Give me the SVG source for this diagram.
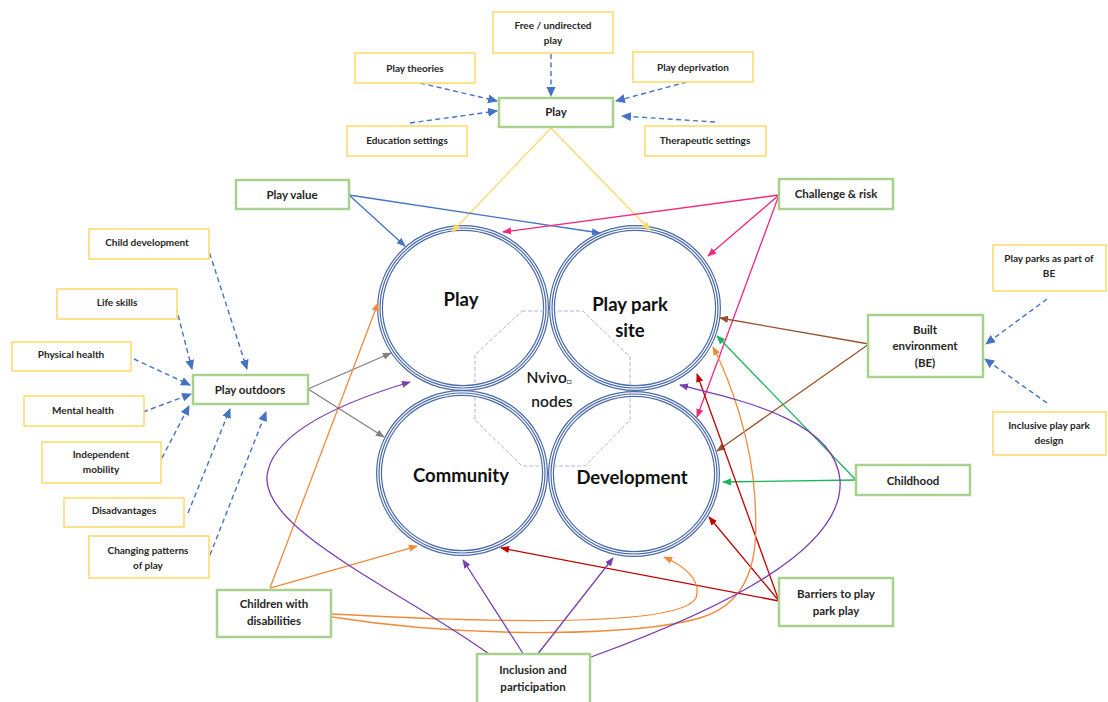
<svg xmlns="http://www.w3.org/2000/svg" width="1108" height="702" viewBox="0 0 1108 702">
  <style>
    .bg { fill: #ffffff; }
    .yb { fill: #ffffff; stroke: #ffd966; stroke-width: 1.5; }
    .gb { fill: #ffffff; stroke: #a9d18e; stroke-width: 2.5; }
    .t { font-family: Lato, "Open Sans", sans-serif; font-weight: bold; fill: #262626; text-anchor: middle; }
    .ts { font-size: 10px; }
    .tg { font-size: 11.5px; }
    .big { font-family: Lato, "Open Sans", sans-serif; font-weight: bold; font-size: 18.5px; fill: #111111; text-anchor: middle; }
    .ring1 { fill: #ffffff; stroke: #4a6aa8; stroke-width: 6; }
    .ring2 { fill: none; stroke: #ffffff; stroke-width: 3.6; }
    .ring3 { fill: none; stroke: #4a6aa8; stroke-width: 1.2; }
    .oct { fill: none; stroke: #b4a7d6; stroke-width: 0.9; stroke-dasharray: 4 2; }
    .nv { font-family: Lato, "Open Sans", sans-serif; font-weight: 600; font-size: 15.5px; fill: #1a1a1a; text-anchor: middle; }
    .c { fill: none; stroke-width: 1.3; }
    .dash { fill: none; stroke: #4472c4; stroke-width: 1.4; stroke-dasharray: 5 3.5; marker-end: url(#aDash); }
    .blue { stroke: #4472c4; marker-end: url(#aBlue); }
    .yel { stroke: #ffd966; marker-end: url(#aYel); }
    .pink { stroke: #f0287f; marker-end: url(#aPink); }
    .brown { stroke: #96532a; marker-end: url(#aBrown); }
    .green { stroke: #1fb35c; marker-end: url(#aGreen); }
    .red { stroke: #c00000; marker-end: url(#aRed); }
    .orange { stroke: #f08a3c; marker-end: url(#aOrange); }
    .purple { stroke: #7a3fb0; marker-end: url(#aPurple); }
    .gray { stroke: #808080; marker-end: url(#aGray); }
  </style>
  <defs>
    <marker id="aDash" viewBox="0 0 10 10" refX="9" refY="5" markerWidth="10" markerHeight="10" markerUnits="userSpaceOnUse" orient="auto"><path d="M0,0.5 L10,5 L0,9.5 z" fill="#4472c4"/></marker>
    <marker id="aBlue" viewBox="0 0 10 10" refX="9" refY="5" markerWidth="9" markerHeight="9" markerUnits="userSpaceOnUse" orient="auto"><path d="M0,1 L10,5 L0,9 z" fill="#4472c4"/></marker>
    <marker id="aYel" viewBox="0 0 10 10" refX="9" refY="5" markerWidth="9" markerHeight="9" markerUnits="userSpaceOnUse" orient="auto"><path d="M0,1 L10,5 L0,9 z" fill="#ffd966"/></marker>
    <marker id="aPink" viewBox="0 0 10 10" refX="9" refY="5" markerWidth="9" markerHeight="9" markerUnits="userSpaceOnUse" orient="auto"><path d="M0,1 L10,5 L0,9 z" fill="#f0287f"/></marker>
    <marker id="aBrown" viewBox="0 0 10 10" refX="9" refY="5" markerWidth="9" markerHeight="9" markerUnits="userSpaceOnUse" orient="auto"><path d="M0,1 L10,5 L0,9 z" fill="#96532a"/></marker>
    <marker id="aGreen" viewBox="0 0 10 10" refX="9" refY="5" markerWidth="9" markerHeight="9" markerUnits="userSpaceOnUse" orient="auto"><path d="M0,1 L10,5 L0,9 z" fill="#1fb35c"/></marker>
    <marker id="aRed" viewBox="0 0 10 10" refX="9" refY="5" markerWidth="9" markerHeight="9" markerUnits="userSpaceOnUse" orient="auto"><path d="M0,1 L10,5 L0,9 z" fill="#c00000"/></marker>
    <marker id="aOrange" viewBox="0 0 10 10" refX="9" refY="5" markerWidth="9" markerHeight="9" markerUnits="userSpaceOnUse" orient="auto"><path d="M0,1 L10,5 L0,9 z" fill="#f08a3c"/></marker>
    <marker id="aPurple" viewBox="0 0 10 10" refX="9" refY="5" markerWidth="9" markerHeight="9" markerUnits="userSpaceOnUse" orient="auto"><path d="M0,1 L10,5 L0,9 z" fill="#7a3fb0"/></marker>
    <marker id="aGray" viewBox="0 0 10 10" refX="9" refY="5" markerWidth="9" markerHeight="9" markerUnits="userSpaceOnUse" orient="auto"><path d="M0,1 L10,5 L0,9 z" fill="#808080"/></marker>
  </defs>

  <rect class="bg" x="0" y="0" width="1108" height="702"/>

  <!-- the four node circles with triple outline -->
  <g id="circle-play">
    <ellipse class="ring1" cx="463" cy="308" rx="83" ry="80"/>
    <ellipse class="ring2" cx="463" cy="308" rx="83" ry="80"/>
    <ellipse class="ring3" cx="463" cy="308" rx="83" ry="80"/>
  </g>
  <g id="circle-play-park-site">
    <ellipse class="ring1" cx="635" cy="308" rx="83" ry="80"/>
    <ellipse class="ring2" cx="635" cy="308" rx="83" ry="80"/>
    <ellipse class="ring3" cx="635" cy="308" rx="83" ry="80"/>
  </g>
  <g id="circle-community">
    <ellipse class="ring1" cx="462" cy="473" rx="83" ry="80"/>
    <ellipse class="ring2" cx="462" cy="473" rx="83" ry="80"/>
    <ellipse class="ring3" cx="462" cy="473" rx="83" ry="80"/>
  </g>
  <g id="circle-development">
    <ellipse class="ring1" cx="634" cy="474" rx="83" ry="80"/>
    <ellipse class="ring2" cx="634" cy="474" rx="83" ry="80"/>
    <ellipse class="ring3" cx="634" cy="474" rx="83" ry="80"/>
  </g>

  <!-- dashed octagon in the middle -->
  <g id="nvivo-nodes">
    <polygon class="oct" points="522,311 583,311 630,357 630,420 585,466 522,466 475,420 475,355"/>
    <text class="nv" x="549" y="383">Nvivo<tspan font-size="8" font-weight="normal" dy="1">□</tspan></text>
    <text class="nv" x="552" y="407">nodes</text>
  </g>

  <g id="labels-circles">
    <text class="big" x="461" y="306">Play</text>
    <text class="big" x="630" y="311">Play park</text>
    <text class="big" x="630" y="337">site</text>
    <text class="big" x="461" y="482">Community</text>
    <text class="big" x="632" y="484">Development</text>
  </g>

  <!-- connectors -->
  <g id="connectors">
    <!-- dashed feeds into Play -->
    <line class="dash" x1="551" y1="54" x2="551" y2="96"/>
    <line class="dash" x1="420" y1="83" x2="497" y2="101"/>
    <line class="dash" x1="410" y1="123" x2="497" y2="111"/>
    <line class="dash" x1="687" y1="82" x2="616" y2="101"/>
    <line class="dash" x1="715" y1="122" x2="622" y2="116"/>
    <!-- dashed feeds into Play outdoors -->
    <line class="dash" x1="207" y1="245" x2="247" y2="369"/>
    <line class="dash" x1="176" y1="307" x2="192" y2="369"/>
    <line class="dash" x1="134" y1="359" x2="190" y2="385"/>
    <line class="dash" x1="143" y1="412" x2="191" y2="394"/>
    <line class="dash" x1="162" y1="458" x2="189" y2="406"/>
    <line class="dash" x1="188" y1="513" x2="230" y2="409"/>
    <line class="dash" x1="210" y1="555" x2="266" y2="412"/>
    <!-- dashed feeds into Built environment -->
    <line class="dash" x1="1047" y1="299" x2="986" y2="344"/>
    <line class="dash" x1="1047" y1="403" x2="985" y2="359"/>

    <!-- Play box to circles -->
    <line class="c yel" x1="551" y1="128" x2="452" y2="232"/>
    <line class="c yel" x1="551" y1="128" x2="650" y2="230"/>
    <!-- Play value -->
    <line class="c blue" x1="349" y1="195" x2="405" y2="246"/>
    <line class="c blue" x1="349" y1="195" x2="600" y2="233"/>
    <!-- Challenge & risk -->
    <line class="c pink" x1="779" y1="195" x2="503" y2="232"/>
    <line class="c pink" x1="779" y1="195" x2="708" y2="256"/>
    <line class="c pink" x1="779" y1="195" x2="697" y2="417"/>
    <!-- Play outdoors -->
    <line class="c gray" x1="308" y1="389" x2="391" y2="353"/>
    <line class="c gray" x1="308" y1="389" x2="384" y2="437"/>
    <!-- Built environment -->
    <line class="c brown" x1="869" y1="344" x2="720" y2="318"/>
    <line class="c brown" x1="869" y1="344" x2="717" y2="451"/>
    <!-- Childhood -->
    <line class="c green" x1="856" y1="480" x2="717" y2="336"/>
    <line class="c green" x1="856" y1="480" x2="723" y2="482"/>
    <!-- Barriers to play park play -->
    <line class="c red" x1="779" y1="601" x2="501" y2="548"/>
    <line class="c red" x1="779" y1="601" x2="709" y2="517"/>
    <line class="c red" x1="779" y1="601" x2="697" y2="374"/>
    <!-- Children with disabilities -->
    <line class="c orange" x1="270" y1="588" x2="378" y2="303"/>
    <line class="c orange" x1="270" y1="588" x2="417" y2="546"/>
    <path class="c orange" d="M332,614 C 480,622 680,628 696,598 C 702,580 684,566 664,557"/>
    <path class="c orange" d="M332,617 C 480,640 640,635 700,618 C 760,600 757,540 755,500 C 752,440 730,380 713,347"/>
    <!-- Inclusion and participation -->
    <path class="c purple" d="M489,654 C 400,590 262,530 267,476 C 272,430 350,400 410,382"/>
    <line class="c purple" x1="524" y1="655" x2="463" y2="560"/>
    <line class="c purple" x1="537" y1="655" x2="613" y2="558"/>
    <path class="c purple" d="M591,657 C 720,610 845,550 840,480 C 835,420 740,400 680,385"/>
  </g>

  <!-- boxes -->
  <g id="node-free-undirected">
    <rect class="yb" x="493" y="12" width="120" height="41"/>
    <text class="t ts" x="553" y="29">Free / undirected</text>
    <text class="t ts" x="553" y="44">play</text>
  </g>
  <g id="node-play-theories">
    <rect class="yb" x="355" y="53" width="120" height="30"/>
    <text class="t ts" x="415" y="72">Play theories</text>
  </g>
  <g id="node-play-deprivation">
    <rect class="yb" x="633" y="52" width="120" height="30"/>
    <text class="t ts" x="693" y="71">Play deprivation</text>
  </g>
  <g id="node-play">
    <rect class="gb" x="499" y="98" width="114" height="29"/>
    <text class="t tg" x="556" y="116">Play</text>
  </g>
  <g id="node-education-settings">
    <rect class="yb" x="347" y="126" width="120" height="30"/>
    <text class="t ts" x="407" y="144">Education settings</text>
  </g>
  <g id="node-therapeutic-settings">
    <rect class="yb" x="645" y="126" width="121" height="30"/>
    <text class="t ts" x="705" y="144">Therapeutic settings</text>
  </g>
  <g id="node-play-value">
    <rect class="gb" x="236" y="180" width="113" height="29"/>
    <text class="t tg" x="292" y="199">Play value</text>
  </g>
  <g id="node-challenge-risk">
    <rect class="gb" x="779" y="179" width="114" height="30"/>
    <text class="t tg" x="836" y="198">Challenge &amp; risk</text>
  </g>
  <g id="node-child-development">
    <rect class="yb" x="89" y="229" width="120" height="30"/>
    <text class="t ts" x="147" y="246">Child development</text>
  </g>
  <g id="node-life-skills">
    <rect class="yb" x="57" y="289" width="120" height="30"/>
    <text class="t ts" x="117" y="306">Life skills</text>
  </g>
  <g id="node-physical-health">
    <rect class="yb" x="12" y="342" width="119" height="29"/>
    <text class="t ts" x="71" y="358">Physical health</text>
  </g>
  <g id="node-mental-health">
    <rect class="yb" x="24" y="396" width="120" height="30"/>
    <text class="t ts" x="83" y="414">Mental health</text>
  </g>
  <g id="node-independent-mobility">
    <rect class="yb" x="42" y="442" width="119" height="41"/>
    <text class="t ts" x="101" y="458">Independent</text>
    <text class="t ts" x="101" y="473">mobility</text>
  </g>
  <g id="node-disadvantages">
    <rect class="yb" x="64" y="498" width="120" height="29"/>
    <text class="t ts" x="124" y="514">Disadvantages</text>
  </g>
  <g id="node-changing-patterns">
    <rect class="yb" x="89" y="536" width="120" height="42"/>
    <text class="t ts" x="148" y="554">Changing patterns</text>
    <text class="t ts" x="148" y="569">of play</text>
  </g>
  <g id="node-play-outdoors">
    <rect class="gb" x="193" y="375" width="115" height="29"/>
    <text class="t tg" x="250" y="394">Play outdoors</text>
  </g>
  <g id="node-play-parks-be">
    <rect class="yb" x="993" y="245" width="113" height="46"/>
    <text class="t ts" x="1049" y="262">Play parks as part of</text>
    <text class="t ts" x="1049" y="277">BE</text>
  </g>
  <g id="node-built-environment">
    <rect class="gb" x="868" y="315" width="115" height="62"/>
    <text class="t tg" x="925" y="334">Built</text>
    <text class="t tg" x="925" y="350">environment</text>
    <text class="t tg" x="925" y="367">(BE)</text>
  </g>
  <g id="node-inclusive-design">
    <rect class="yb" x="993" y="412" width="113" height="43"/>
    <text class="t ts" x="1049" y="429">Inclusive play park</text>
    <text class="t ts" x="1049" y="444">design</text>
  </g>
  <g id="node-childhood">
    <rect class="gb" x="856" y="465" width="114" height="30"/>
    <text class="t tg" x="913" y="485">Childhood</text>
  </g>
  <g id="node-barriers">
    <rect class="gb" x="779" y="578" width="114" height="48"/>
    <text class="t tg" x="836" y="598">Barriers to play</text>
    <text class="t tg" x="836" y="615">park play</text>
  </g>
  <g id="node-children-disabilities">
    <rect class="gb" x="217" y="590" width="114" height="47"/>
    <text class="t tg" x="274" y="608">Children with</text>
    <text class="t tg" x="274" y="625">disabilities</text>
  </g>
  <g id="node-inclusion-participation">
    <rect class="gb" x="477" y="654" width="113" height="52"/>
    <text class="t tg" x="533" y="674">Inclusion and</text>
    <text class="t tg" x="533" y="691">participation</text>
  </g>
</svg>
